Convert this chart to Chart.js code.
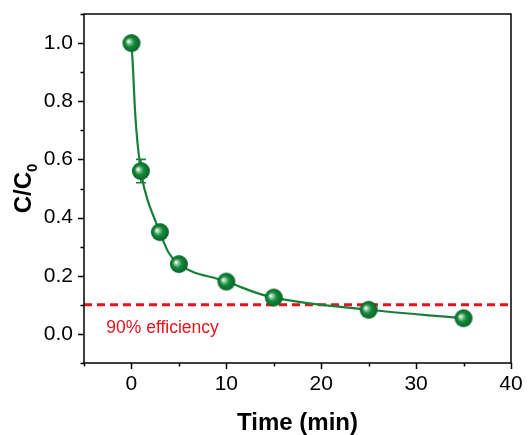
<!DOCTYPE html>
<html>
<head>
<meta charset="utf-8">
<script src="https://cdn.jsdelivr.net/npm/chart.js@4.4.1/dist/chart.umd.min.js"></script>
<style>
  html, body { margin: 0; padding: 0; background: #fff; }
  #wrap { width: 528px; height: 435px; }
</style>
</head>
<body>
<div id="wrap"><canvas id="c" width="528" height="435"></canvas></div>
<script>
// Degradation kinetics: relative concentration vs. time
const times = [0, 1, 3, 5, 10, 15, 25, 35];
const ratio = [1.0, 0.56, 0.35, 0.24, 0.18, 0.125, 0.083, 0.054];
const errors = [0.0, 0.04, 0.01, 0.01, 0.01, 0.02, 0.015, 0.01];

const xTicks = [0, 10, 20, 30, 40];
const yTicks = [0.0, 0.2, 0.4, 0.6, 0.8, 1.0];
const xMinorTicks = [-5, 5, 15, 25, 35];
const yMinorTicks = [-0.1, 0.1, 0.3, 0.5, 0.7, 0.9, 1.1];

const threshold = 0.1;
const thresholdLabel = '90% efficiency';
const xTitle = 'Time (min)';

const FONT = '"Liberation Sans", Arial, Helvetica, sans-serif';
const GREEN = '#16803a';
const RED = '#e3141c';

// Shaded sphere marker
function makeBall(r) {
  const size = r * 2 + 2;
  const cv = document.createElement('canvas');
  cv.width = size; cv.height = size;
  const g = cv.getContext('2d');
  const c = size / 2;
  const grad = g.createRadialGradient(c - r * 0.35, c - r * 0.2, 0.5, c, c, r);
  grad.addColorStop(0, '#f4fbf5');
  grad.addColorStop(0.2, '#86c998');
  grad.addColorStop(0.48, '#17893d');
  grad.addColorStop(1, '#066428');
  g.fillStyle = grad;
  g.beginPath();
  g.arc(c, c, r, 0, Math.PI * 2);
  g.fill();
  return cv;
}
const ball = makeBall(9);

const points = times.map((t, i) => ({ x: t, y: ratio[i] }));

const decor = {
  id: 'decor',
  beforeDatasetsDraw(chart) {
    const { ctx, chartArea: a, scales: { x, y } } = chart;
    ctx.save();
    // threshold line
    ctx.strokeStyle = RED;
    ctx.lineWidth = 3;
    ctx.setLineDash([8, 5]);
    const ty = y.getPixelForValue(threshold);
    ctx.beginPath();
    ctx.moveTo(a.left, ty);
    ctx.lineTo(a.right, ty);
    ctx.stroke();
    ctx.setLineDash([]);
    // error bars
    ctx.strokeStyle = GREEN;
    ctx.lineWidth = 1.6;
    times.forEach((t, i) => {
      if (!errors[i]) return;
      const px = x.getPixelForValue(t);
      const y1 = y.getPixelForValue(ratio[i] + errors[i]);
      const y2 = y.getPixelForValue(ratio[i] - errors[i]);
      ctx.beginPath();
      ctx.moveTo(px, y1); ctx.lineTo(px, y2);
      ctx.moveTo(px - 5, y1); ctx.lineTo(px + 5, y1);
      ctx.moveTo(px - 5, y2); ctx.lineTo(px + 5, y2);
      ctx.stroke();
    });
    // threshold label
    ctx.fillStyle = RED;
    ctx.font = '17.5px ' + FONT;
    ctx.textAlign = 'left';
    ctx.textBaseline = 'alphabetic';
    ctx.fillText(thresholdLabel, x.getPixelForValue(-2.65), y.getPixelForValue(0.003));
    ctx.restore();
  },
  afterDraw(chart) {
    const { ctx, chartArea: a, scales: { x, y } } = chart;
    ctx.save();
    ctx.strokeStyle = '#000';
    ctx.lineWidth = 1.5;
    ctx.strokeRect(a.left, a.top, a.right - a.left, a.bottom - a.top);
    ctx.beginPath();
    xTicks.forEach(v => { const p = Math.round(x.getPixelForValue(v)) + 0.5; ctx.moveTo(p, a.bottom); ctx.lineTo(p, a.bottom + 6); });
    xMinorTicks.forEach(v => { const p = Math.round(x.getPixelForValue(v)) + 0.5; ctx.moveTo(p, a.bottom); ctx.lineTo(p, a.bottom + 3.5); });
    yTicks.forEach(v => { const p = Math.round(y.getPixelForValue(v)) + 0.5; ctx.moveTo(a.left, p); ctx.lineTo(a.left - 6, p); });
    yMinorTicks.forEach(v => { const p = Math.round(y.getPixelForValue(v)) + 0.5; ctx.moveTo(a.left, p); ctx.lineTo(a.left - 3.5, p); });
    ctx.stroke();

    // axis titles
    ctx.fillStyle = '#000';
    ctx.font = 'bold 24px ' + FONT;
    ctx.textAlign = 'center';
    ctx.textBaseline = 'alphabetic';
    ctx.fillText(xTitle, (a.left + a.right) / 2, 430);

    ctx.translate(31, (a.top + a.bottom) / 2);
    ctx.rotate(-Math.PI / 2);
    ctx.font = 'bold 24px ' + FONT;
    const main = 'C/C';
    const wMain = ctx.measureText(main).width;
    ctx.font = 'bold 15px ' + FONT;
    const wSub = ctx.measureText('0').width;
    const start = -(wMain + wSub) / 2;
    ctx.textAlign = 'left';
    ctx.font = 'bold 24px ' + FONT;
    ctx.fillText(main, start, 0);
    ctx.font = 'bold 15px ' + FONT;
    ctx.fillText('0', start + wMain, 6);
    ctx.restore();
  }
};

new Chart(document.getElementById('c'), {
  type: 'scatter',
  data: {
    datasets: [{
      data: points,
      showLine: true,
      borderColor: GREEN,
      borderWidth: 2.2,
      tension: 0.4,
      pointStyle: ball,
      pointRadius: 9,
      pointHoverRadius: 9,
      clip: false
    }]
  },
  options: {
    responsive: false,
    animation: false,
    events: [],
    layout: { padding: { top: 14, right: 17, bottom: 0, left: 0 } },
    plugins: { legend: { display: false }, tooltip: { enabled: false } },
    scales: {
      x: {
        type: 'linear',
        min: -5, max: 40,
        afterFit(s) { s.height = 72; s.paddingLeft = 0; s.paddingRight = 0; },
        afterBuildTicks(s) { s.ticks = xTicks.map(v => ({ value: v })); },
        grid: { display: true, drawOnChartArea: false, drawTicks: false },
        border: { display: false },
        ticks: { color: '#000', padding: 9, maxRotation: 0, font: { family: FONT, size: 21 } }
      },
      y: {
        type: 'linear',
        min: -0.1, max: 1.1,
        afterFit(s) { s.width = 84; s.paddingTop = 0; s.paddingBottom = 0; },
        afterBuildTicks(s) { s.ticks = yTicks.map(v => ({ value: v })); },
        grid: { display: true, drawOnChartArea: false, drawTicks: false },
        border: { display: false },
        ticks: { color: '#000', padding: 11, font: { family: FONT, size: 21 }, callback: v => Number(v).toFixed(1) }
      }
    }
  },
  plugins: [decor]
});
</script>
</body>
</html>
